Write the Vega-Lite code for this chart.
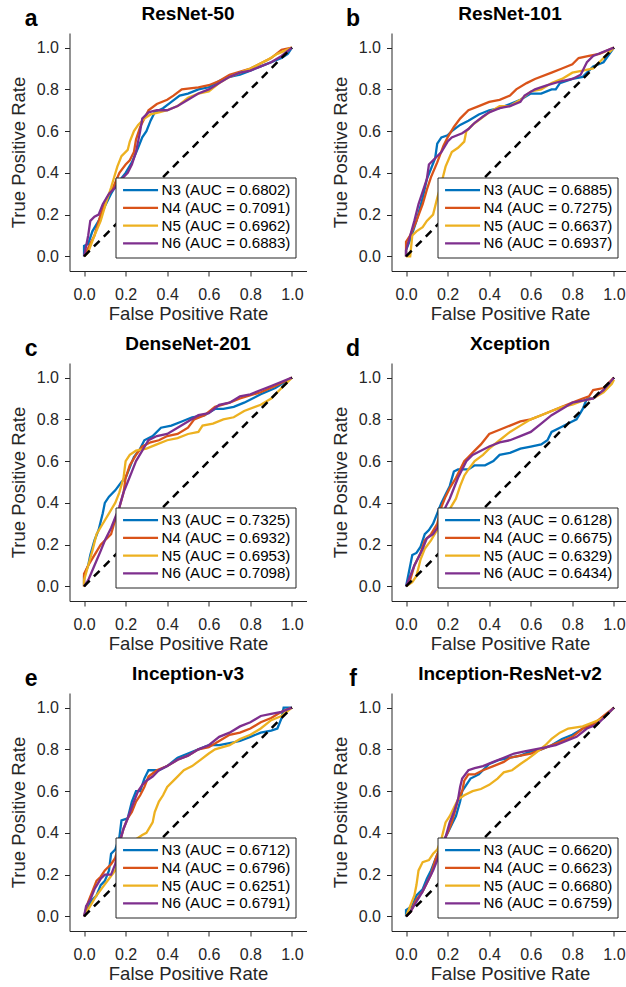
{
"$schema": "https://vega.github.io/schema/vega-lite/v6.json",
"padding": {"left": 8.5, "top": 4, "right": 0, "bottom": 0},
"autosize": {"type": "pad"},
"background": "white",
"datasets": {
"a": [
{"s":"N3 (AUC = 0.6802)","x":0,"y":0},{"s":"N3 (AUC = 0.6802)","x":0,"y":0.05},{"s":"N3 (AUC = 0.6802)","x":0.02,"y":0.06},{"s":"N3 (AUC = 0.6802)","x":0.04,"y":0.12},{"s":"N3 (AUC = 0.6802)","x":0.07,"y":0.17},{"s":"N3 (AUC = 0.6802)","x":0.1,"y":0.24},{"s":"N3 (AUC = 0.6802)","x":0.13,"y":0.3},{"s":"N3 (AUC = 0.6802)","x":0.16,"y":0.35},{"s":"N3 (AUC = 0.6802)","x":0.2,"y":0.4},{"s":"N3 (AUC = 0.6802)","x":0.23,"y":0.45},{"s":"N3 (AUC = 0.6802)","x":0.26,"y":0.52},{"s":"N3 (AUC = 0.6802)","x":0.28,"y":0.57},{"s":"N3 (AUC = 0.6802)","x":0.3,"y":0.6},{"s":"N3 (AUC = 0.6802)","x":0.32,"y":0.65},{"s":"N3 (AUC = 0.6802)","x":0.34,"y":0.69},{"s":"N3 (AUC = 0.6802)","x":0.38,"y":0.71},{"s":"N3 (AUC = 0.6802)","x":0.42,"y":0.74},{"s":"N3 (AUC = 0.6802)","x":0.46,"y":0.77},{"s":"N3 (AUC = 0.6802)","x":0.5,"y":0.78},{"s":"N3 (AUC = 0.6802)","x":0.55,"y":0.8},{"s":"N3 (AUC = 0.6802)","x":0.6,"y":0.81},{"s":"N3 (AUC = 0.6802)","x":0.65,"y":0.84},{"s":"N3 (AUC = 0.6802)","x":0.7,"y":0.86},{"s":"N3 (AUC = 0.6802)","x":0.75,"y":0.87},{"s":"N3 (AUC = 0.6802)","x":0.8,"y":0.89},{"s":"N3 (AUC = 0.6802)","x":0.85,"y":0.91},{"s":"N3 (AUC = 0.6802)","x":0.9,"y":0.93},{"s":"N3 (AUC = 0.6802)","x":0.95,"y":0.95},{"s":"N3 (AUC = 0.6802)","x":0.98,"y":0.97},{"s":"N3 (AUC = 0.6802)","x":1,"y":1},
{"s":"N4 (AUC = 0.7091)","x":0,"y":0},{"s":"N4 (AUC = 0.7091)","x":0.01,"y":0.02},{"s":"N4 (AUC = 0.7091)","x":0.03,"y":0.06},{"s":"N4 (AUC = 0.7091)","x":0.05,"y":0.1},{"s":"N4 (AUC = 0.7091)","x":0.08,"y":0.2},{"s":"N4 (AUC = 0.7091)","x":0.11,"y":0.28},{"s":"N4 (AUC = 0.7091)","x":0.14,"y":0.33},{"s":"N4 (AUC = 0.7091)","x":0.17,"y":0.4},{"s":"N4 (AUC = 0.7091)","x":0.2,"y":0.44},{"s":"N4 (AUC = 0.7091)","x":0.22,"y":0.46},{"s":"N4 (AUC = 0.7091)","x":0.24,"y":0.5},{"s":"N4 (AUC = 0.7091)","x":0.25,"y":0.56},{"s":"N4 (AUC = 0.7091)","x":0.27,"y":0.62},{"s":"N4 (AUC = 0.7091)","x":0.29,"y":0.66},{"s":"N4 (AUC = 0.7091)","x":0.31,"y":0.7},{"s":"N4 (AUC = 0.7091)","x":0.35,"y":0.73},{"s":"N4 (AUC = 0.7091)","x":0.4,"y":0.75},{"s":"N4 (AUC = 0.7091)","x":0.43,"y":0.77},{"s":"N4 (AUC = 0.7091)","x":0.47,"y":0.8},{"s":"N4 (AUC = 0.7091)","x":0.55,"y":0.81},{"s":"N4 (AUC = 0.7091)","x":0.6,"y":0.82},{"s":"N4 (AUC = 0.7091)","x":0.65,"y":0.84},{"s":"N4 (AUC = 0.7091)","x":0.7,"y":0.87},{"s":"N4 (AUC = 0.7091)","x":0.8,"y":0.9},{"s":"N4 (AUC = 0.7091)","x":0.9,"y":0.95},{"s":"N4 (AUC = 0.7091)","x":0.95,"y":0.99},{"s":"N4 (AUC = 0.7091)","x":1,"y":1},
{"s":"N5 (AUC = 0.6962)","x":0,"y":0},{"s":"N5 (AUC = 0.6962)","x":0.02,"y":0.02},{"s":"N5 (AUC = 0.6962)","x":0.05,"y":0.1},{"s":"N5 (AUC = 0.6962)","x":0.08,"y":0.17},{"s":"N5 (AUC = 0.6962)","x":0.11,"y":0.27},{"s":"N5 (AUC = 0.6962)","x":0.13,"y":0.33},{"s":"N5 (AUC = 0.6962)","x":0.16,"y":0.43},{"s":"N5 (AUC = 0.6962)","x":0.18,"y":0.48},{"s":"N5 (AUC = 0.6962)","x":0.21,"y":0.51},{"s":"N5 (AUC = 0.6962)","x":0.22,"y":0.55},{"s":"N5 (AUC = 0.6962)","x":0.24,"y":0.6},{"s":"N5 (AUC = 0.6962)","x":0.26,"y":0.63},{"s":"N5 (AUC = 0.6962)","x":0.29,"y":0.66},{"s":"N5 (AUC = 0.6962)","x":0.32,"y":0.68},{"s":"N5 (AUC = 0.6962)","x":0.36,"y":0.69},{"s":"N5 (AUC = 0.6962)","x":0.4,"y":0.7},{"s":"N5 (AUC = 0.6962)","x":0.45,"y":0.72},{"s":"N5 (AUC = 0.6962)","x":0.5,"y":0.76},{"s":"N5 (AUC = 0.6962)","x":0.55,"y":0.78},{"s":"N5 (AUC = 0.6962)","x":0.6,"y":0.79},{"s":"N5 (AUC = 0.6962)","x":0.65,"y":0.83},{"s":"N5 (AUC = 0.6962)","x":0.7,"y":0.86},{"s":"N5 (AUC = 0.6962)","x":0.8,"y":0.9},{"s":"N5 (AUC = 0.6962)","x":0.88,"y":0.94},{"s":"N5 (AUC = 0.6962)","x":0.93,"y":0.97},{"s":"N5 (AUC = 0.6962)","x":1,"y":1},
{"s":"N6 (AUC = 0.6883)","x":0,"y":0},{"s":"N6 (AUC = 0.6883)","x":0.01,"y":0.05},{"s":"N6 (AUC = 0.6883)","x":0.02,"y":0.1},{"s":"N6 (AUC = 0.6883)","x":0.03,"y":0.17},{"s":"N6 (AUC = 0.6883)","x":0.05,"y":0.19},{"s":"N6 (AUC = 0.6883)","x":0.07,"y":0.2},{"s":"N6 (AUC = 0.6883)","x":0.09,"y":0.25},{"s":"N6 (AUC = 0.6883)","x":0.12,"y":0.3},{"s":"N6 (AUC = 0.6883)","x":0.15,"y":0.33},{"s":"N6 (AUC = 0.6883)","x":0.18,"y":0.37},{"s":"N6 (AUC = 0.6883)","x":0.21,"y":0.4},{"s":"N6 (AUC = 0.6883)","x":0.23,"y":0.44},{"s":"N6 (AUC = 0.6883)","x":0.25,"y":0.5},{"s":"N6 (AUC = 0.6883)","x":0.27,"y":0.6},{"s":"N6 (AUC = 0.6883)","x":0.28,"y":0.66},{"s":"N6 (AUC = 0.6883)","x":0.31,"y":0.69},{"s":"N6 (AUC = 0.6883)","x":0.35,"y":0.7},{"s":"N6 (AUC = 0.6883)","x":0.4,"y":0.7},{"s":"N6 (AUC = 0.6883)","x":0.45,"y":0.72},{"s":"N6 (AUC = 0.6883)","x":0.5,"y":0.75},{"s":"N6 (AUC = 0.6883)","x":0.55,"y":0.78},{"s":"N6 (AUC = 0.6883)","x":0.6,"y":0.8},{"s":"N6 (AUC = 0.6883)","x":0.65,"y":0.83},{"s":"N6 (AUC = 0.6883)","x":0.7,"y":0.86},{"s":"N6 (AUC = 0.6883)","x":0.75,"y":0.88},{"s":"N6 (AUC = 0.6883)","x":0.8,"y":0.89},{"s":"N6 (AUC = 0.6883)","x":0.85,"y":0.91},{"s":"N6 (AUC = 0.6883)","x":0.9,"y":0.93},{"s":"N6 (AUC = 0.6883)","x":0.95,"y":0.96},{"s":"N6 (AUC = 0.6883)","x":1,"y":1}
],
"b": [
{"s":"N3 (AUC = 0.6885)","x":0,"y":0},{"s":"N3 (AUC = 0.6885)","x":0,"y":0.03},{"s":"N3 (AUC = 0.6885)","x":0.02,"y":0.08},{"s":"N3 (AUC = 0.6885)","x":0.05,"y":0.17},{"s":"N3 (AUC = 0.6885)","x":0.08,"y":0.28},{"s":"N3 (AUC = 0.6885)","x":0.1,"y":0.37},{"s":"N3 (AUC = 0.6885)","x":0.12,"y":0.42},{"s":"N3 (AUC = 0.6885)","x":0.14,"y":0.47},{"s":"N3 (AUC = 0.6885)","x":0.15,"y":0.54},{"s":"N3 (AUC = 0.6885)","x":0.17,"y":0.57},{"s":"N3 (AUC = 0.6885)","x":0.2,"y":0.58},{"s":"N3 (AUC = 0.6885)","x":0.22,"y":0.6},{"s":"N3 (AUC = 0.6885)","x":0.26,"y":0.63},{"s":"N3 (AUC = 0.6885)","x":0.3,"y":0.65},{"s":"N3 (AUC = 0.6885)","x":0.35,"y":0.68},{"s":"N3 (AUC = 0.6885)","x":0.4,"y":0.7},{"s":"N3 (AUC = 0.6885)","x":0.45,"y":0.71},{"s":"N3 (AUC = 0.6885)","x":0.5,"y":0.73},{"s":"N3 (AUC = 0.6885)","x":0.55,"y":0.75},{"s":"N3 (AUC = 0.6885)","x":0.6,"y":0.78},{"s":"N3 (AUC = 0.6885)","x":0.65,"y":0.78},{"s":"N3 (AUC = 0.6885)","x":0.7,"y":0.8},{"s":"N3 (AUC = 0.6885)","x":0.72,"y":0.8},{"s":"N3 (AUC = 0.6885)","x":0.74,"y":0.83},{"s":"N3 (AUC = 0.6885)","x":0.8,"y":0.85},{"s":"N3 (AUC = 0.6885)","x":0.85,"y":0.86},{"s":"N3 (AUC = 0.6885)","x":0.9,"y":0.91},{"s":"N3 (AUC = 0.6885)","x":0.95,"y":0.93},{"s":"N3 (AUC = 0.6885)","x":1,"y":1},
{"s":"N4 (AUC = 0.7275)","x":0,"y":0},{"s":"N4 (AUC = 0.7275)","x":0,"y":0.07},{"s":"N4 (AUC = 0.7275)","x":0.02,"y":0.1},{"s":"N4 (AUC = 0.7275)","x":0.05,"y":0.17},{"s":"N4 (AUC = 0.7275)","x":0.08,"y":0.25},{"s":"N4 (AUC = 0.7275)","x":0.1,"y":0.32},{"s":"N4 (AUC = 0.7275)","x":0.12,"y":0.38},{"s":"N4 (AUC = 0.7275)","x":0.15,"y":0.45},{"s":"N4 (AUC = 0.7275)","x":0.18,"y":0.53},{"s":"N4 (AUC = 0.7275)","x":0.2,"y":0.57},{"s":"N4 (AUC = 0.7275)","x":0.23,"y":0.62},{"s":"N4 (AUC = 0.7275)","x":0.26,"y":0.66},{"s":"N4 (AUC = 0.7275)","x":0.3,"y":0.7},{"s":"N4 (AUC = 0.7275)","x":0.35,"y":0.72},{"s":"N4 (AUC = 0.7275)","x":0.4,"y":0.74},{"s":"N4 (AUC = 0.7275)","x":0.45,"y":0.75},{"s":"N4 (AUC = 0.7275)","x":0.5,"y":0.77},{"s":"N4 (AUC = 0.7275)","x":0.53,"y":0.8},{"s":"N4 (AUC = 0.7275)","x":0.58,"y":0.83},{"s":"N4 (AUC = 0.7275)","x":0.62,"y":0.85},{"s":"N4 (AUC = 0.7275)","x":0.7,"y":0.88},{"s":"N4 (AUC = 0.7275)","x":0.75,"y":0.9},{"s":"N4 (AUC = 0.7275)","x":0.8,"y":0.92},{"s":"N4 (AUC = 0.7275)","x":0.83,"y":0.95},{"s":"N4 (AUC = 0.7275)","x":0.88,"y":0.96},{"s":"N4 (AUC = 0.7275)","x":0.93,"y":0.97},{"s":"N4 (AUC = 0.7275)","x":1,"y":1},
{"s":"N5 (AUC = 0.6637)","x":0,"y":0},{"s":"N5 (AUC = 0.6637)","x":0.02,"y":0},{"s":"N5 (AUC = 0.6637)","x":0.03,"y":0.1},{"s":"N5 (AUC = 0.6637)","x":0.05,"y":0.12},{"s":"N5 (AUC = 0.6637)","x":0.08,"y":0.14},{"s":"N5 (AUC = 0.6637)","x":0.1,"y":0.17},{"s":"N5 (AUC = 0.6637)","x":0.13,"y":0.2},{"s":"N5 (AUC = 0.6637)","x":0.15,"y":0.28},{"s":"N5 (AUC = 0.6637)","x":0.17,"y":0.35},{"s":"N5 (AUC = 0.6637)","x":0.19,"y":0.43},{"s":"N5 (AUC = 0.6637)","x":0.22,"y":0.5},{"s":"N5 (AUC = 0.6637)","x":0.25,"y":0.52},{"s":"N5 (AUC = 0.6637)","x":0.28,"y":0.55},{"s":"N5 (AUC = 0.6637)","x":0.29,"y":0.6},{"s":"N5 (AUC = 0.6637)","x":0.32,"y":0.63},{"s":"N5 (AUC = 0.6637)","x":0.36,"y":0.66},{"s":"N5 (AUC = 0.6637)","x":0.4,"y":0.69},{"s":"N5 (AUC = 0.6637)","x":0.45,"y":0.72},{"s":"N5 (AUC = 0.6637)","x":0.5,"y":0.72},{"s":"N5 (AUC = 0.6637)","x":0.55,"y":0.75},{"s":"N5 (AUC = 0.6637)","x":0.6,"y":0.79},{"s":"N5 (AUC = 0.6637)","x":0.65,"y":0.8},{"s":"N5 (AUC = 0.6637)","x":0.7,"y":0.83},{"s":"N5 (AUC = 0.6637)","x":0.75,"y":0.85},{"s":"N5 (AUC = 0.6637)","x":0.8,"y":0.88},{"s":"N5 (AUC = 0.6637)","x":0.85,"y":0.89},{"s":"N5 (AUC = 0.6637)","x":0.9,"y":0.9},{"s":"N5 (AUC = 0.6637)","x":0.95,"y":0.95},{"s":"N5 (AUC = 0.6637)","x":1,"y":1},
{"s":"N6 (AUC = 0.6937)","x":0,"y":0},{"s":"N6 (AUC = 0.6937)","x":0,"y":0.03},{"s":"N6 (AUC = 0.6937)","x":0.02,"y":0.1},{"s":"N6 (AUC = 0.6937)","x":0.04,"y":0.17},{"s":"N6 (AUC = 0.6937)","x":0.06,"y":0.25},{"s":"N6 (AUC = 0.6937)","x":0.08,"y":0.31},{"s":"N6 (AUC = 0.6937)","x":0.1,"y":0.37},{"s":"N6 (AUC = 0.6937)","x":0.11,"y":0.44},{"s":"N6 (AUC = 0.6937)","x":0.14,"y":0.47},{"s":"N6 (AUC = 0.6937)","x":0.17,"y":0.5},{"s":"N6 (AUC = 0.6937)","x":0.2,"y":0.55},{"s":"N6 (AUC = 0.6937)","x":0.22,"y":0.57},{"s":"N6 (AUC = 0.6937)","x":0.27,"y":0.59},{"s":"N6 (AUC = 0.6937)","x":0.3,"y":0.61},{"s":"N6 (AUC = 0.6937)","x":0.33,"y":0.64},{"s":"N6 (AUC = 0.6937)","x":0.37,"y":0.67},{"s":"N6 (AUC = 0.6937)","x":0.4,"y":0.69},{"s":"N6 (AUC = 0.6937)","x":0.45,"y":0.71},{"s":"N6 (AUC = 0.6937)","x":0.5,"y":0.72},{"s":"N6 (AUC = 0.6937)","x":0.55,"y":0.74},{"s":"N6 (AUC = 0.6937)","x":0.57,"y":0.77},{"s":"N6 (AUC = 0.6937)","x":0.62,"y":0.8},{"s":"N6 (AUC = 0.6937)","x":0.68,"y":0.82},{"s":"N6 (AUC = 0.6937)","x":0.75,"y":0.84},{"s":"N6 (AUC = 0.6937)","x":0.8,"y":0.85},{"s":"N6 (AUC = 0.6937)","x":0.84,"y":0.87},{"s":"N6 (AUC = 0.6937)","x":0.87,"y":0.93},{"s":"N6 (AUC = 0.6937)","x":0.9,"y":0.96},{"s":"N6 (AUC = 0.6937)","x":0.95,"y":0.98},{"s":"N6 (AUC = 0.6937)","x":1,"y":1}
],
"c": [
{"s":"N3 (AUC = 0.7325)","x":0,"y":0},{"s":"N3 (AUC = 0.7325)","x":0,"y":0.05},{"s":"N3 (AUC = 0.7325)","x":0.02,"y":0.1},{"s":"N3 (AUC = 0.7325)","x":0.03,"y":0.15},{"s":"N3 (AUC = 0.7325)","x":0.05,"y":0.22},{"s":"N3 (AUC = 0.7325)","x":0.07,"y":0.27},{"s":"N3 (AUC = 0.7325)","x":0.09,"y":0.35},{"s":"N3 (AUC = 0.7325)","x":0.1,"y":0.4},{"s":"N3 (AUC = 0.7325)","x":0.12,"y":0.43},{"s":"N3 (AUC = 0.7325)","x":0.15,"y":0.46},{"s":"N3 (AUC = 0.7325)","x":0.18,"y":0.5},{"s":"N3 (AUC = 0.7325)","x":0.2,"y":0.52},{"s":"N3 (AUC = 0.7325)","x":0.22,"y":0.57},{"s":"N3 (AUC = 0.7325)","x":0.24,"y":0.62},{"s":"N3 (AUC = 0.7325)","x":0.27,"y":0.66},{"s":"N3 (AUC = 0.7325)","x":0.29,"y":0.7},{"s":"N3 (AUC = 0.7325)","x":0.33,"y":0.72},{"s":"N3 (AUC = 0.7325)","x":0.37,"y":0.76},{"s":"N3 (AUC = 0.7325)","x":0.42,"y":0.77},{"s":"N3 (AUC = 0.7325)","x":0.47,"y":0.79},{"s":"N3 (AUC = 0.7325)","x":0.52,"y":0.81},{"s":"N3 (AUC = 0.7325)","x":0.58,"y":0.82},{"s":"N3 (AUC = 0.7325)","x":0.63,"y":0.85},{"s":"N3 (AUC = 0.7325)","x":0.67,"y":0.85},{"s":"N3 (AUC = 0.7325)","x":0.72,"y":0.86},{"s":"N3 (AUC = 0.7325)","x":0.77,"y":0.88},{"s":"N3 (AUC = 0.7325)","x":0.85,"y":0.92},{"s":"N3 (AUC = 0.7325)","x":0.92,"y":0.95},{"s":"N3 (AUC = 0.7325)","x":1,"y":1},
{"s":"N4 (AUC = 0.6932)","x":0,"y":0},{"s":"N4 (AUC = 0.6932)","x":0,"y":0.06},{"s":"N4 (AUC = 0.6932)","x":0.02,"y":0.1},{"s":"N4 (AUC = 0.6932)","x":0.05,"y":0.15},{"s":"N4 (AUC = 0.6932)","x":0.08,"y":0.2},{"s":"N4 (AUC = 0.6932)","x":0.1,"y":0.22},{"s":"N4 (AUC = 0.6932)","x":0.13,"y":0.25},{"s":"N4 (AUC = 0.6932)","x":0.15,"y":0.32},{"s":"N4 (AUC = 0.6932)","x":0.17,"y":0.38},{"s":"N4 (AUC = 0.6932)","x":0.19,"y":0.45},{"s":"N4 (AUC = 0.6932)","x":0.2,"y":0.52},{"s":"N4 (AUC = 0.6932)","x":0.22,"y":0.58},{"s":"N4 (AUC = 0.6932)","x":0.25,"y":0.63},{"s":"N4 (AUC = 0.6932)","x":0.28,"y":0.67},{"s":"N4 (AUC = 0.6932)","x":0.32,"y":0.69},{"s":"N4 (AUC = 0.6932)","x":0.36,"y":0.7},{"s":"N4 (AUC = 0.6932)","x":0.4,"y":0.72},{"s":"N4 (AUC = 0.6932)","x":0.45,"y":0.73},{"s":"N4 (AUC = 0.6932)","x":0.5,"y":0.76},{"s":"N4 (AUC = 0.6932)","x":0.53,"y":0.8},{"s":"N4 (AUC = 0.6932)","x":0.58,"y":0.82},{"s":"N4 (AUC = 0.6932)","x":0.63,"y":0.86},{"s":"N4 (AUC = 0.6932)","x":0.7,"y":0.88},{"s":"N4 (AUC = 0.6932)","x":0.75,"y":0.9},{"s":"N4 (AUC = 0.6932)","x":0.85,"y":0.93},{"s":"N4 (AUC = 0.6932)","x":0.92,"y":0.96},{"s":"N4 (AUC = 0.6932)","x":1,"y":1},
{"s":"N5 (AUC = 0.6953)","x":0,"y":0},{"s":"N5 (AUC = 0.6953)","x":0,"y":0.03},{"s":"N5 (AUC = 0.6953)","x":0.02,"y":0.1},{"s":"N5 (AUC = 0.6953)","x":0.04,"y":0.17},{"s":"N5 (AUC = 0.6953)","x":0.06,"y":0.25},{"s":"N5 (AUC = 0.6953)","x":0.09,"y":0.3},{"s":"N5 (AUC = 0.6953)","x":0.12,"y":0.35},{"s":"N5 (AUC = 0.6953)","x":0.15,"y":0.4},{"s":"N5 (AUC = 0.6953)","x":0.17,"y":0.45},{"s":"N5 (AUC = 0.6953)","x":0.19,"y":0.52},{"s":"N5 (AUC = 0.6953)","x":0.2,"y":0.6},{"s":"N5 (AUC = 0.6953)","x":0.22,"y":0.63},{"s":"N5 (AUC = 0.6953)","x":0.25,"y":0.65},{"s":"N5 (AUC = 0.6953)","x":0.3,"y":0.66},{"s":"N5 (AUC = 0.6953)","x":0.35,"y":0.68},{"s":"N5 (AUC = 0.6953)","x":0.4,"y":0.7},{"s":"N5 (AUC = 0.6953)","x":0.45,"y":0.71},{"s":"N5 (AUC = 0.6953)","x":0.5,"y":0.73},{"s":"N5 (AUC = 0.6953)","x":0.55,"y":0.74},{"s":"N5 (AUC = 0.6953)","x":0.57,"y":0.77},{"s":"N5 (AUC = 0.6953)","x":0.62,"y":0.78},{"s":"N5 (AUC = 0.6953)","x":0.67,"y":0.8},{"s":"N5 (AUC = 0.6953)","x":0.72,"y":0.81},{"s":"N5 (AUC = 0.6953)","x":0.77,"y":0.84},{"s":"N5 (AUC = 0.6953)","x":0.85,"y":0.87},{"s":"N5 (AUC = 0.6953)","x":0.9,"y":0.9},{"s":"N5 (AUC = 0.6953)","x":0.95,"y":0.95},{"s":"N5 (AUC = 0.6953)","x":1,"y":1},
{"s":"N6 (AUC = 0.7098)","x":0,"y":0},{"s":"N6 (AUC = 0.7098)","x":0.02,"y":0.03},{"s":"N6 (AUC = 0.7098)","x":0.05,"y":0.1},{"s":"N6 (AUC = 0.7098)","x":0.08,"y":0.17},{"s":"N6 (AUC = 0.7098)","x":0.1,"y":0.22},{"s":"N6 (AUC = 0.7098)","x":0.13,"y":0.28},{"s":"N6 (AUC = 0.7098)","x":0.15,"y":0.33},{"s":"N6 (AUC = 0.7098)","x":0.17,"y":0.38},{"s":"N6 (AUC = 0.7098)","x":0.19,"y":0.45},{"s":"N6 (AUC = 0.7098)","x":0.21,"y":0.5},{"s":"N6 (AUC = 0.7098)","x":0.23,"y":0.55},{"s":"N6 (AUC = 0.7098)","x":0.25,"y":0.6},{"s":"N6 (AUC = 0.7098)","x":0.28,"y":0.65},{"s":"N6 (AUC = 0.7098)","x":0.31,"y":0.7},{"s":"N6 (AUC = 0.7098)","x":0.35,"y":0.72},{"s":"N6 (AUC = 0.7098)","x":0.4,"y":0.73},{"s":"N6 (AUC = 0.7098)","x":0.45,"y":0.76},{"s":"N6 (AUC = 0.7098)","x":0.5,"y":0.79},{"s":"N6 (AUC = 0.7098)","x":0.55,"y":0.82},{"s":"N6 (AUC = 0.7098)","x":0.6,"y":0.83},{"s":"N6 (AUC = 0.7098)","x":0.65,"y":0.87},{"s":"N6 (AUC = 0.7098)","x":0.7,"y":0.88},{"s":"N6 (AUC = 0.7098)","x":0.75,"y":0.91},{"s":"N6 (AUC = 0.7098)","x":0.8,"y":0.92},{"s":"N6 (AUC = 0.7098)","x":0.9,"y":0.96},{"s":"N6 (AUC = 0.7098)","x":1,"y":1}
],
"d": [
{"s":"N3 (AUC = 0.6128)","x":0,"y":0},{"s":"N3 (AUC = 0.6128)","x":0.01,"y":0.05},{"s":"N3 (AUC = 0.6128)","x":0.02,"y":0.1},{"s":"N3 (AUC = 0.6128)","x":0.03,"y":0.15},{"s":"N3 (AUC = 0.6128)","x":0.05,"y":0.16},{"s":"N3 (AUC = 0.6128)","x":0.07,"y":0.19},{"s":"N3 (AUC = 0.6128)","x":0.09,"y":0.25},{"s":"N3 (AUC = 0.6128)","x":0.11,"y":0.27},{"s":"N3 (AUC = 0.6128)","x":0.13,"y":0.3},{"s":"N3 (AUC = 0.6128)","x":0.15,"y":0.35},{"s":"N3 (AUC = 0.6128)","x":0.17,"y":0.4},{"s":"N3 (AUC = 0.6128)","x":0.19,"y":0.44},{"s":"N3 (AUC = 0.6128)","x":0.21,"y":0.48},{"s":"N3 (AUC = 0.6128)","x":0.23,"y":0.55},{"s":"N3 (AUC = 0.6128)","x":0.25,"y":0.56},{"s":"N3 (AUC = 0.6128)","x":0.3,"y":0.56},{"s":"N3 (AUC = 0.6128)","x":0.33,"y":0.58},{"s":"N3 (AUC = 0.6128)","x":0.38,"y":0.58},{"s":"N3 (AUC = 0.6128)","x":0.42,"y":0.6},{"s":"N3 (AUC = 0.6128)","x":0.45,"y":0.63},{"s":"N3 (AUC = 0.6128)","x":0.5,"y":0.64},{"s":"N3 (AUC = 0.6128)","x":0.55,"y":0.66},{"s":"N3 (AUC = 0.6128)","x":0.6,"y":0.67},{"s":"N3 (AUC = 0.6128)","x":0.65,"y":0.68},{"s":"N3 (AUC = 0.6128)","x":0.68,"y":0.7},{"s":"N3 (AUC = 0.6128)","x":0.7,"y":0.74},{"s":"N3 (AUC = 0.6128)","x":0.74,"y":0.76},{"s":"N3 (AUC = 0.6128)","x":0.78,"y":0.78},{"s":"N3 (AUC = 0.6128)","x":0.82,"y":0.8},{"s":"N3 (AUC = 0.6128)","x":0.85,"y":0.85},{"s":"N3 (AUC = 0.6128)","x":0.87,"y":0.9},{"s":"N3 (AUC = 0.6128)","x":0.9,"y":0.9},{"s":"N3 (AUC = 0.6128)","x":0.95,"y":0.94},{"s":"N3 (AUC = 0.6128)","x":1,"y":1},
{"s":"N4 (AUC = 0.6675)","x":0,"y":0},{"s":"N4 (AUC = 0.6675)","x":0.02,"y":0.03},{"s":"N4 (AUC = 0.6675)","x":0.04,"y":0.1},{"s":"N4 (AUC = 0.6675)","x":0.07,"y":0.16},{"s":"N4 (AUC = 0.6675)","x":0.09,"y":0.22},{"s":"N4 (AUC = 0.6675)","x":0.12,"y":0.25},{"s":"N4 (AUC = 0.6675)","x":0.15,"y":0.3},{"s":"N4 (AUC = 0.6675)","x":0.17,"y":0.38},{"s":"N4 (AUC = 0.6675)","x":0.19,"y":0.43},{"s":"N4 (AUC = 0.6675)","x":0.21,"y":0.47},{"s":"N4 (AUC = 0.6675)","x":0.24,"y":0.52},{"s":"N4 (AUC = 0.6675)","x":0.26,"y":0.56},{"s":"N4 (AUC = 0.6675)","x":0.28,"y":0.6},{"s":"N4 (AUC = 0.6675)","x":0.3,"y":0.62},{"s":"N4 (AUC = 0.6675)","x":0.33,"y":0.65},{"s":"N4 (AUC = 0.6675)","x":0.36,"y":0.68},{"s":"N4 (AUC = 0.6675)","x":0.4,"y":0.73},{"s":"N4 (AUC = 0.6675)","x":0.45,"y":0.75},{"s":"N4 (AUC = 0.6675)","x":0.5,"y":0.77},{"s":"N4 (AUC = 0.6675)","x":0.55,"y":0.79},{"s":"N4 (AUC = 0.6675)","x":0.6,"y":0.8},{"s":"N4 (AUC = 0.6675)","x":0.65,"y":0.82},{"s":"N4 (AUC = 0.6675)","x":0.7,"y":0.84},{"s":"N4 (AUC = 0.6675)","x":0.75,"y":0.86},{"s":"N4 (AUC = 0.6675)","x":0.8,"y":0.88},{"s":"N4 (AUC = 0.6675)","x":0.85,"y":0.9},{"s":"N4 (AUC = 0.6675)","x":0.88,"y":0.91},{"s":"N4 (AUC = 0.6675)","x":0.9,"y":0.94},{"s":"N4 (AUC = 0.6675)","x":0.95,"y":0.95},{"s":"N4 (AUC = 0.6675)","x":1,"y":1},
{"s":"N5 (AUC = 0.6329)","x":0,"y":0},{"s":"N5 (AUC = 0.6329)","x":0.03,"y":0.02},{"s":"N5 (AUC = 0.6329)","x":0.05,"y":0.05},{"s":"N5 (AUC = 0.6329)","x":0.07,"y":0.13},{"s":"N5 (AUC = 0.6329)","x":0.09,"y":0.18},{"s":"N5 (AUC = 0.6329)","x":0.12,"y":0.22},{"s":"N5 (AUC = 0.6329)","x":0.15,"y":0.27},{"s":"N5 (AUC = 0.6329)","x":0.18,"y":0.32},{"s":"N5 (AUC = 0.6329)","x":0.21,"y":0.37},{"s":"N5 (AUC = 0.6329)","x":0.24,"y":0.42},{"s":"N5 (AUC = 0.6329)","x":0.26,"y":0.48},{"s":"N5 (AUC = 0.6329)","x":0.28,"y":0.53},{"s":"N5 (AUC = 0.6329)","x":0.3,"y":0.56},{"s":"N5 (AUC = 0.6329)","x":0.33,"y":0.6},{"s":"N5 (AUC = 0.6329)","x":0.37,"y":0.63},{"s":"N5 (AUC = 0.6329)","x":0.4,"y":0.66},{"s":"N5 (AUC = 0.6329)","x":0.45,"y":0.7},{"s":"N5 (AUC = 0.6329)","x":0.5,"y":0.74},{"s":"N5 (AUC = 0.6329)","x":0.55,"y":0.77},{"s":"N5 (AUC = 0.6329)","x":0.6,"y":0.8},{"s":"N5 (AUC = 0.6329)","x":0.65,"y":0.82},{"s":"N5 (AUC = 0.6329)","x":0.7,"y":0.84},{"s":"N5 (AUC = 0.6329)","x":0.75,"y":0.86},{"s":"N5 (AUC = 0.6329)","x":0.8,"y":0.87},{"s":"N5 (AUC = 0.6329)","x":0.85,"y":0.89},{"s":"N5 (AUC = 0.6329)","x":0.9,"y":0.9},{"s":"N5 (AUC = 0.6329)","x":0.95,"y":0.93},{"s":"N5 (AUC = 0.6329)","x":0.99,"y":0.97},{"s":"N5 (AUC = 0.6329)","x":1,"y":0.99},
{"s":"N6 (AUC = 0.6434)","x":0,"y":0},{"s":"N6 (AUC = 0.6434)","x":0.02,"y":0.05},{"s":"N6 (AUC = 0.6434)","x":0.04,"y":0.1},{"s":"N6 (AUC = 0.6434)","x":0.06,"y":0.14},{"s":"N6 (AUC = 0.6434)","x":0.08,"y":0.18},{"s":"N6 (AUC = 0.6434)","x":0.1,"y":0.23},{"s":"N6 (AUC = 0.6434)","x":0.13,"y":0.25},{"s":"N6 (AUC = 0.6434)","x":0.15,"y":0.28},{"s":"N6 (AUC = 0.6434)","x":0.17,"y":0.33},{"s":"N6 (AUC = 0.6434)","x":0.19,"y":0.38},{"s":"N6 (AUC = 0.6434)","x":0.21,"y":0.42},{"s":"N6 (AUC = 0.6434)","x":0.23,"y":0.47},{"s":"N6 (AUC = 0.6434)","x":0.25,"y":0.52},{"s":"N6 (AUC = 0.6434)","x":0.27,"y":0.56},{"s":"N6 (AUC = 0.6434)","x":0.29,"y":0.6},{"s":"N6 (AUC = 0.6434)","x":0.32,"y":0.63},{"s":"N6 (AUC = 0.6434)","x":0.36,"y":0.65},{"s":"N6 (AUC = 0.6434)","x":0.4,"y":0.67},{"s":"N6 (AUC = 0.6434)","x":0.45,"y":0.69},{"s":"N6 (AUC = 0.6434)","x":0.5,"y":0.7},{"s":"N6 (AUC = 0.6434)","x":0.55,"y":0.72},{"s":"N6 (AUC = 0.6434)","x":0.6,"y":0.74},{"s":"N6 (AUC = 0.6434)","x":0.65,"y":0.78},{"s":"N6 (AUC = 0.6434)","x":0.7,"y":0.82},{"s":"N6 (AUC = 0.6434)","x":0.75,"y":0.85},{"s":"N6 (AUC = 0.6434)","x":0.8,"y":0.88},{"s":"N6 (AUC = 0.6434)","x":0.85,"y":0.89},{"s":"N6 (AUC = 0.6434)","x":0.9,"y":0.9},{"s":"N6 (AUC = 0.6434)","x":0.95,"y":0.94},{"s":"N6 (AUC = 0.6434)","x":1,"y":1}
],
"e": [
{"s":"N3 (AUC = 0.6712)","x":0,"y":0},{"s":"N3 (AUC = 0.6712)","x":0.02,"y":0.05},{"s":"N3 (AUC = 0.6712)","x":0.04,"y":0.08},{"s":"N3 (AUC = 0.6712)","x":0.06,"y":0.1},{"s":"N3 (AUC = 0.6712)","x":0.08,"y":0.15},{"s":"N3 (AUC = 0.6712)","x":0.1,"y":0.17},{"s":"N3 (AUC = 0.6712)","x":0.12,"y":0.22},{"s":"N3 (AUC = 0.6712)","x":0.13,"y":0.3},{"s":"N3 (AUC = 0.6712)","x":0.15,"y":0.32},{"s":"N3 (AUC = 0.6712)","x":0.17,"y":0.38},{"s":"N3 (AUC = 0.6712)","x":0.18,"y":0.46},{"s":"N3 (AUC = 0.6712)","x":0.21,"y":0.47},{"s":"N3 (AUC = 0.6712)","x":0.23,"y":0.55},{"s":"N3 (AUC = 0.6712)","x":0.25,"y":0.6},{"s":"N3 (AUC = 0.6712)","x":0.27,"y":0.6},{"s":"N3 (AUC = 0.6712)","x":0.29,"y":0.66},{"s":"N3 (AUC = 0.6712)","x":0.31,"y":0.7},{"s":"N3 (AUC = 0.6712)","x":0.36,"y":0.7},{"s":"N3 (AUC = 0.6712)","x":0.4,"y":0.72},{"s":"N3 (AUC = 0.6712)","x":0.45,"y":0.76},{"s":"N3 (AUC = 0.6712)","x":0.5,"y":0.78},{"s":"N3 (AUC = 0.6712)","x":0.55,"y":0.8},{"s":"N3 (AUC = 0.6712)","x":0.6,"y":0.82},{"s":"N3 (AUC = 0.6712)","x":0.65,"y":0.82},{"s":"N3 (AUC = 0.6712)","x":0.7,"y":0.83},{"s":"N3 (AUC = 0.6712)","x":0.75,"y":0.84},{"s":"N3 (AUC = 0.6712)","x":0.8,"y":0.86},{"s":"N3 (AUC = 0.6712)","x":0.85,"y":0.88},{"s":"N3 (AUC = 0.6712)","x":0.9,"y":0.89},{"s":"N3 (AUC = 0.6712)","x":0.93,"y":0.9},{"s":"N3 (AUC = 0.6712)","x":0.95,"y":0.95},{"s":"N3 (AUC = 0.6712)","x":0.96,"y":1},{"s":"N3 (AUC = 0.6712)","x":1,"y":1},
{"s":"N4 (AUC = 0.6796)","x":0,"y":0},{"s":"N4 (AUC = 0.6796)","x":0.02,"y":0.07},{"s":"N4 (AUC = 0.6796)","x":0.04,"y":0.12},{"s":"N4 (AUC = 0.6796)","x":0.06,"y":0.17},{"s":"N4 (AUC = 0.6796)","x":0.08,"y":0.19},{"s":"N4 (AUC = 0.6796)","x":0.1,"y":0.22},{"s":"N4 (AUC = 0.6796)","x":0.13,"y":0.25},{"s":"N4 (AUC = 0.6796)","x":0.15,"y":0.28},{"s":"N4 (AUC = 0.6796)","x":0.17,"y":0.35},{"s":"N4 (AUC = 0.6796)","x":0.19,"y":0.42},{"s":"N4 (AUC = 0.6796)","x":0.21,"y":0.47},{"s":"N4 (AUC = 0.6796)","x":0.23,"y":0.5},{"s":"N4 (AUC = 0.6796)","x":0.25,"y":0.55},{"s":"N4 (AUC = 0.6796)","x":0.27,"y":0.58},{"s":"N4 (AUC = 0.6796)","x":0.29,"y":0.62},{"s":"N4 (AUC = 0.6796)","x":0.31,"y":0.67},{"s":"N4 (AUC = 0.6796)","x":0.35,"y":0.7},{"s":"N4 (AUC = 0.6796)","x":0.4,"y":0.72},{"s":"N4 (AUC = 0.6796)","x":0.45,"y":0.75},{"s":"N4 (AUC = 0.6796)","x":0.5,"y":0.77},{"s":"N4 (AUC = 0.6796)","x":0.55,"y":0.8},{"s":"N4 (AUC = 0.6796)","x":0.6,"y":0.81},{"s":"N4 (AUC = 0.6796)","x":0.65,"y":0.84},{"s":"N4 (AUC = 0.6796)","x":0.7,"y":0.87},{"s":"N4 (AUC = 0.6796)","x":0.75,"y":0.88},{"s":"N4 (AUC = 0.6796)","x":0.8,"y":0.9},{"s":"N4 (AUC = 0.6796)","x":0.85,"y":0.93},{"s":"N4 (AUC = 0.6796)","x":0.9,"y":0.95},{"s":"N4 (AUC = 0.6796)","x":0.95,"y":0.98},{"s":"N4 (AUC = 0.6796)","x":1,"y":1},
{"s":"N5 (AUC = 0.6251)","x":0,"y":0},{"s":"N5 (AUC = 0.6251)","x":0.03,"y":0.05},{"s":"N5 (AUC = 0.6251)","x":0.06,"y":0.1},{"s":"N5 (AUC = 0.6251)","x":0.09,"y":0.14},{"s":"N5 (AUC = 0.6251)","x":0.12,"y":0.18},{"s":"N5 (AUC = 0.6251)","x":0.15,"y":0.22},{"s":"N5 (AUC = 0.6251)","x":0.18,"y":0.3},{"s":"N5 (AUC = 0.6251)","x":0.21,"y":0.35},{"s":"N5 (AUC = 0.6251)","x":0.25,"y":0.37},{"s":"N5 (AUC = 0.6251)","x":0.28,"y":0.39},{"s":"N5 (AUC = 0.6251)","x":0.3,"y":0.4},{"s":"N5 (AUC = 0.6251)","x":0.33,"y":0.45},{"s":"N5 (AUC = 0.6251)","x":0.34,"y":0.5},{"s":"N5 (AUC = 0.6251)","x":0.36,"y":0.55},{"s":"N5 (AUC = 0.6251)","x":0.38,"y":0.58},{"s":"N5 (AUC = 0.6251)","x":0.4,"y":0.62},{"s":"N5 (AUC = 0.6251)","x":0.44,"y":0.66},{"s":"N5 (AUC = 0.6251)","x":0.48,"y":0.7},{"s":"N5 (AUC = 0.6251)","x":0.52,"y":0.72},{"s":"N5 (AUC = 0.6251)","x":0.56,"y":0.75},{"s":"N5 (AUC = 0.6251)","x":0.6,"y":0.78},{"s":"N5 (AUC = 0.6251)","x":0.63,"y":0.8},{"s":"N5 (AUC = 0.6251)","x":0.7,"y":0.82},{"s":"N5 (AUC = 0.6251)","x":0.75,"y":0.85},{"s":"N5 (AUC = 0.6251)","x":0.8,"y":0.87},{"s":"N5 (AUC = 0.6251)","x":0.85,"y":0.9},{"s":"N5 (AUC = 0.6251)","x":0.9,"y":0.94},{"s":"N5 (AUC = 0.6251)","x":0.95,"y":0.96},{"s":"N5 (AUC = 0.6251)","x":1,"y":1},
{"s":"N6 (AUC = 0.6791)","x":0,"y":0},{"s":"N6 (AUC = 0.6791)","x":0.01,"y":0.05},{"s":"N6 (AUC = 0.6791)","x":0.03,"y":0.08},{"s":"N6 (AUC = 0.6791)","x":0.05,"y":0.13},{"s":"N6 (AUC = 0.6791)","x":0.08,"y":0.18},{"s":"N6 (AUC = 0.6791)","x":0.1,"y":0.2},{"s":"N6 (AUC = 0.6791)","x":0.13,"y":0.2},{"s":"N6 (AUC = 0.6791)","x":0.15,"y":0.25},{"s":"N6 (AUC = 0.6791)","x":0.17,"y":0.35},{"s":"N6 (AUC = 0.6791)","x":0.19,"y":0.42},{"s":"N6 (AUC = 0.6791)","x":0.21,"y":0.47},{"s":"N6 (AUC = 0.6791)","x":0.24,"y":0.55},{"s":"N6 (AUC = 0.6791)","x":0.26,"y":0.6},{"s":"N6 (AUC = 0.6791)","x":0.28,"y":0.63},{"s":"N6 (AUC = 0.6791)","x":0.3,"y":0.65},{"s":"N6 (AUC = 0.6791)","x":0.33,"y":0.67},{"s":"N6 (AUC = 0.6791)","x":0.36,"y":0.7},{"s":"N6 (AUC = 0.6791)","x":0.4,"y":0.72},{"s":"N6 (AUC = 0.6791)","x":0.45,"y":0.75},{"s":"N6 (AUC = 0.6791)","x":0.5,"y":0.77},{"s":"N6 (AUC = 0.6791)","x":0.55,"y":0.8},{"s":"N6 (AUC = 0.6791)","x":0.6,"y":0.82},{"s":"N6 (AUC = 0.6791)","x":0.65,"y":0.86},{"s":"N6 (AUC = 0.6791)","x":0.7,"y":0.88},{"s":"N6 (AUC = 0.6791)","x":0.75,"y":0.91},{"s":"N6 (AUC = 0.6791)","x":0.8,"y":0.93},{"s":"N6 (AUC = 0.6791)","x":0.85,"y":0.96},{"s":"N6 (AUC = 0.6791)","x":0.9,"y":0.97},{"s":"N6 (AUC = 0.6791)","x":0.95,"y":0.98},{"s":"N6 (AUC = 0.6791)","x":1,"y":1}
],
"f": [
{"s":"N3 (AUC = 0.6620)","x":0,"y":0},{"s":"N3 (AUC = 0.6620)","x":0,"y":0.03},{"s":"N3 (AUC = 0.6620)","x":0.03,"y":0.05},{"s":"N3 (AUC = 0.6620)","x":0.05,"y":0.1},{"s":"N3 (AUC = 0.6620)","x":0.08,"y":0.13},{"s":"N3 (AUC = 0.6620)","x":0.1,"y":0.18},{"s":"N3 (AUC = 0.6620)","x":0.12,"y":0.22},{"s":"N3 (AUC = 0.6620)","x":0.14,"y":0.27},{"s":"N3 (AUC = 0.6620)","x":0.16,"y":0.32},{"s":"N3 (AUC = 0.6620)","x":0.18,"y":0.36},{"s":"N3 (AUC = 0.6620)","x":0.2,"y":0.4},{"s":"N3 (AUC = 0.6620)","x":0.22,"y":0.44},{"s":"N3 (AUC = 0.6620)","x":0.24,"y":0.48},{"s":"N3 (AUC = 0.6620)","x":0.26,"y":0.55},{"s":"N3 (AUC = 0.6620)","x":0.27,"y":0.6},{"s":"N3 (AUC = 0.6620)","x":0.29,"y":0.63},{"s":"N3 (AUC = 0.6620)","x":0.31,"y":0.66},{"s":"N3 (AUC = 0.6620)","x":0.35,"y":0.68},{"s":"N3 (AUC = 0.6620)","x":0.4,"y":0.73},{"s":"N3 (AUC = 0.6620)","x":0.45,"y":0.75},{"s":"N3 (AUC = 0.6620)","x":0.5,"y":0.76},{"s":"N3 (AUC = 0.6620)","x":0.55,"y":0.77},{"s":"N3 (AUC = 0.6620)","x":0.6,"y":0.79},{"s":"N3 (AUC = 0.6620)","x":0.65,"y":0.8},{"s":"N3 (AUC = 0.6620)","x":0.7,"y":0.82},{"s":"N3 (AUC = 0.6620)","x":0.75,"y":0.85},{"s":"N3 (AUC = 0.6620)","x":0.8,"y":0.87},{"s":"N3 (AUC = 0.6620)","x":0.85,"y":0.9},{"s":"N3 (AUC = 0.6620)","x":0.9,"y":0.92},{"s":"N3 (AUC = 0.6620)","x":0.95,"y":0.95},{"s":"N3 (AUC = 0.6620)","x":1,"y":1},
{"s":"N4 (AUC = 0.6623)","x":0,"y":0},{"s":"N4 (AUC = 0.6623)","x":0.02,"y":0.02},{"s":"N4 (AUC = 0.6623)","x":0.05,"y":0.08},{"s":"N4 (AUC = 0.6623)","x":0.08,"y":0.12},{"s":"N4 (AUC = 0.6623)","x":0.1,"y":0.16},{"s":"N4 (AUC = 0.6623)","x":0.12,"y":0.2},{"s":"N4 (AUC = 0.6623)","x":0.14,"y":0.27},{"s":"N4 (AUC = 0.6623)","x":0.16,"y":0.32},{"s":"N4 (AUC = 0.6623)","x":0.18,"y":0.36},{"s":"N4 (AUC = 0.6623)","x":0.2,"y":0.4},{"s":"N4 (AUC = 0.6623)","x":0.22,"y":0.45},{"s":"N4 (AUC = 0.6623)","x":0.24,"y":0.52},{"s":"N4 (AUC = 0.6623)","x":0.25,"y":0.56},{"s":"N4 (AUC = 0.6623)","x":0.27,"y":0.6},{"s":"N4 (AUC = 0.6623)","x":0.28,"y":0.65},{"s":"N4 (AUC = 0.6623)","x":0.3,"y":0.68},{"s":"N4 (AUC = 0.6623)","x":0.33,"y":0.68},{"s":"N4 (AUC = 0.6623)","x":0.37,"y":0.7},{"s":"N4 (AUC = 0.6623)","x":0.42,"y":0.72},{"s":"N4 (AUC = 0.6623)","x":0.47,"y":0.74},{"s":"N4 (AUC = 0.6623)","x":0.5,"y":0.76},{"s":"N4 (AUC = 0.6623)","x":0.55,"y":0.77},{"s":"N4 (AUC = 0.6623)","x":0.6,"y":0.78},{"s":"N4 (AUC = 0.6623)","x":0.65,"y":0.8},{"s":"N4 (AUC = 0.6623)","x":0.7,"y":0.82},{"s":"N4 (AUC = 0.6623)","x":0.75,"y":0.84},{"s":"N4 (AUC = 0.6623)","x":0.8,"y":0.86},{"s":"N4 (AUC = 0.6623)","x":0.85,"y":0.9},{"s":"N4 (AUC = 0.6623)","x":0.9,"y":0.92},{"s":"N4 (AUC = 0.6623)","x":0.95,"y":0.96},{"s":"N4 (AUC = 0.6623)","x":1,"y":1},
{"s":"N5 (AUC = 0.6680)","x":0,"y":0},{"s":"N5 (AUC = 0.6680)","x":0.02,"y":0.05},{"s":"N5 (AUC = 0.6680)","x":0.04,"y":0.1},{"s":"N5 (AUC = 0.6680)","x":0.05,"y":0.15},{"s":"N5 (AUC = 0.6680)","x":0.06,"y":0.22},{"s":"N5 (AUC = 0.6680)","x":0.08,"y":0.26},{"s":"N5 (AUC = 0.6680)","x":0.11,"y":0.27},{"s":"N5 (AUC = 0.6680)","x":0.13,"y":0.3},{"s":"N5 (AUC = 0.6680)","x":0.15,"y":0.32},{"s":"N5 (AUC = 0.6680)","x":0.17,"y":0.37},{"s":"N5 (AUC = 0.6680)","x":0.19,"y":0.45},{"s":"N5 (AUC = 0.6680)","x":0.21,"y":0.48},{"s":"N5 (AUC = 0.6680)","x":0.23,"y":0.52},{"s":"N5 (AUC = 0.6680)","x":0.25,"y":0.56},{"s":"N5 (AUC = 0.6680)","x":0.28,"y":0.58},{"s":"N5 (AUC = 0.6680)","x":0.32,"y":0.6},{"s":"N5 (AUC = 0.6680)","x":0.36,"y":0.61},{"s":"N5 (AUC = 0.6680)","x":0.4,"y":0.63},{"s":"N5 (AUC = 0.6680)","x":0.44,"y":0.66},{"s":"N5 (AUC = 0.6680)","x":0.47,"y":0.69},{"s":"N5 (AUC = 0.6680)","x":0.51,"y":0.7},{"s":"N5 (AUC = 0.6680)","x":0.55,"y":0.73},{"s":"N5 (AUC = 0.6680)","x":0.58,"y":0.75},{"s":"N5 (AUC = 0.6680)","x":0.62,"y":0.78},{"s":"N5 (AUC = 0.6680)","x":0.67,"y":0.82},{"s":"N5 (AUC = 0.6680)","x":0.7,"y":0.85},{"s":"N5 (AUC = 0.6680)","x":0.74,"y":0.88},{"s":"N5 (AUC = 0.6680)","x":0.78,"y":0.9},{"s":"N5 (AUC = 0.6680)","x":0.85,"y":0.91},{"s":"N5 (AUC = 0.6680)","x":0.9,"y":0.93},{"s":"N5 (AUC = 0.6680)","x":0.95,"y":0.95},{"s":"N5 (AUC = 0.6680)","x":1,"y":1},
{"s":"N6 (AUC = 0.6759)","x":0,"y":0},{"s":"N6 (AUC = 0.6759)","x":0.02,"y":0.02},{"s":"N6 (AUC = 0.6759)","x":0.05,"y":0.07},{"s":"N6 (AUC = 0.6759)","x":0.08,"y":0.12},{"s":"N6 (AUC = 0.6759)","x":0.1,"y":0.16},{"s":"N6 (AUC = 0.6759)","x":0.13,"y":0.22},{"s":"N6 (AUC = 0.6759)","x":0.15,"y":0.27},{"s":"N6 (AUC = 0.6759)","x":0.17,"y":0.33},{"s":"N6 (AUC = 0.6759)","x":0.19,"y":0.38},{"s":"N6 (AUC = 0.6759)","x":0.21,"y":0.45},{"s":"N6 (AUC = 0.6759)","x":0.23,"y":0.5},{"s":"N6 (AUC = 0.6759)","x":0.25,"y":0.56},{"s":"N6 (AUC = 0.6759)","x":0.26,"y":0.62},{"s":"N6 (AUC = 0.6759)","x":0.27,"y":0.66},{"s":"N6 (AUC = 0.6759)","x":0.3,"y":0.7},{"s":"N6 (AUC = 0.6759)","x":0.33,"y":0.71},{"s":"N6 (AUC = 0.6759)","x":0.37,"y":0.72},{"s":"N6 (AUC = 0.6759)","x":0.42,"y":0.74},{"s":"N6 (AUC = 0.6759)","x":0.47,"y":0.76},{"s":"N6 (AUC = 0.6759)","x":0.52,"y":0.78},{"s":"N6 (AUC = 0.6759)","x":0.57,"y":0.79},{"s":"N6 (AUC = 0.6759)","x":0.62,"y":0.8},{"s":"N6 (AUC = 0.6759)","x":0.67,"y":0.81},{"s":"N6 (AUC = 0.6759)","x":0.72,"y":0.82},{"s":"N6 (AUC = 0.6759)","x":0.77,"y":0.84},{"s":"N6 (AUC = 0.6759)","x":0.82,"y":0.86},{"s":"N6 (AUC = 0.6759)","x":0.87,"y":0.9},{"s":"N6 (AUC = 0.6759)","x":0.92,"y":0.92},{"s":"N6 (AUC = 0.6759)","x":0.96,"y":0.96},{"s":"N6 (AUC = 0.6759)","x":1,"y":1}
]
},
"columns": 2,
"spacing": {"row": 92, "column": 85},
"bounds": "flush",
"resolve": {"scale": {"color": "independent"}, "legend": {"color": "independent"}},
"concat": [
{"width": 237, "height": 238, "title": "ResNet-50", "layer": [
 {"data": {"name": "a"}, "mark": "line", "encoding": {
  "x": {"field": "x", "type": "quantitative", "scale": {"domain": [-0.07, 1.07], "nice": false, "zero": false}, "axis": {"title": "False Positive Rate"}},
  "y": {"field": "y", "type": "quantitative", "scale": {"domain": [-0.07, 1.07], "nice": false, "zero": false}, "axis": {"title": "True Positive Rate"}},
  "color": {"field": "s", "type": "nominal", "scale": {"domain": ["N3 (AUC = 0.6802)","N4 (AUC = 0.7091)","N5 (AUC = 0.6962)","N6 (AUC = 0.6883)"], "range": ["#0072BD","#D95319","#EDB120","#7E2F8E"]}, "legend": {"title": null}},
  "order": {"value": null}}},
 {"data": {"values": [{"x": 0, "y": 0}, {"x": 1, "y": 1}]}, "mark": {"type": "line", "color": "#000000", "strokeDash": [8, 6], "strokeWidth": 2.5}, "encoding": {"x": {"field": "x", "type": "quantitative", "axis": {"title": "False Positive Rate"}}, "y": {"field": "y", "type": "quantitative", "axis": {"title": "True Positive Rate"}}}},
 {"data": {"values": [{"letter": "a"}]}, "mark": {"type": "text", "fontSize": 23, "fontWeight": "bold", "color": "#000000"}, "encoding": {"x": {"datum": -0.255, "type": "quantitative"}, "y": {"datum": 1.105, "type": "quantitative"}, "text": {"field": "letter"}}}
]},
{"width": 237, "height": 238, "title": "ResNet-101", "layer": [
 {"data": {"name": "b"}, "mark": "line", "encoding": {
  "x": {"field": "x", "type": "quantitative", "scale": {"domain": [-0.07, 1.07], "nice": false, "zero": false}, "axis": {"title": "False Positive Rate"}},
  "y": {"field": "y", "type": "quantitative", "scale": {"domain": [-0.07, 1.07], "nice": false, "zero": false}, "axis": {"title": "True Positive Rate"}},
  "color": {"field": "s", "type": "nominal", "scale": {"domain": ["N3 (AUC = 0.6885)","N4 (AUC = 0.7275)","N5 (AUC = 0.6637)","N6 (AUC = 0.6937)"], "range": ["#0072BD","#D95319","#EDB120","#7E2F8E"]}, "legend": {"title": null}},
  "order": {"value": null}}},
 {"data": {"values": [{"x": 0, "y": 0}, {"x": 1, "y": 1}]}, "mark": {"type": "line", "color": "#000000", "strokeDash": [8, 6], "strokeWidth": 2.5}, "encoding": {"x": {"field": "x", "type": "quantitative", "axis": {"title": "False Positive Rate"}}, "y": {"field": "y", "type": "quantitative", "axis": {"title": "True Positive Rate"}}}},
 {"data": {"values": [{"letter": "b"}]}, "mark": {"type": "text", "fontSize": 23, "fontWeight": "bold", "color": "#000000"}, "encoding": {"x": {"datum": -0.255, "type": "quantitative"}, "y": {"datum": 1.105, "type": "quantitative"}, "text": {"field": "letter"}}}
]},
{"width": 237, "height": 238, "title": "DenseNet-201", "layer": [
 {"data": {"name": "c"}, "mark": "line", "encoding": {
  "x": {"field": "x", "type": "quantitative", "scale": {"domain": [-0.07, 1.07], "nice": false, "zero": false}, "axis": {"title": "False Positive Rate"}},
  "y": {"field": "y", "type": "quantitative", "scale": {"domain": [-0.07, 1.07], "nice": false, "zero": false}, "axis": {"title": "True Positive Rate"}},
  "color": {"field": "s", "type": "nominal", "scale": {"domain": ["N3 (AUC = 0.7325)","N4 (AUC = 0.6932)","N5 (AUC = 0.6953)","N6 (AUC = 0.7098)"], "range": ["#0072BD","#D95319","#EDB120","#7E2F8E"]}, "legend": {"title": null}},
  "order": {"value": null}}},
 {"data": {"values": [{"x": 0, "y": 0}, {"x": 1, "y": 1}]}, "mark": {"type": "line", "color": "#000000", "strokeDash": [8, 6], "strokeWidth": 2.5}, "encoding": {"x": {"field": "x", "type": "quantitative", "axis": {"title": "False Positive Rate"}}, "y": {"field": "y", "type": "quantitative", "axis": {"title": "True Positive Rate"}}}},
 {"data": {"values": [{"letter": "c"}]}, "mark": {"type": "text", "fontSize": 23, "fontWeight": "bold", "color": "#000000"}, "encoding": {"x": {"datum": -0.255, "type": "quantitative"}, "y": {"datum": 1.105, "type": "quantitative"}, "text": {"field": "letter"}}}
]},
{"width": 237, "height": 238, "title": "Xception", "layer": [
 {"data": {"name": "d"}, "mark": "line", "encoding": {
  "x": {"field": "x", "type": "quantitative", "scale": {"domain": [-0.07, 1.07], "nice": false, "zero": false}, "axis": {"title": "False Positive Rate"}},
  "y": {"field": "y", "type": "quantitative", "scale": {"domain": [-0.07, 1.07], "nice": false, "zero": false}, "axis": {"title": "True Positive Rate"}},
  "color": {"field": "s", "type": "nominal", "scale": {"domain": ["N3 (AUC = 0.6128)","N4 (AUC = 0.6675)","N5 (AUC = 0.6329)","N6 (AUC = 0.6434)"], "range": ["#0072BD","#D95319","#EDB120","#7E2F8E"]}, "legend": {"title": null}},
  "order": {"value": null}}},
 {"data": {"values": [{"x": 0, "y": 0}, {"x": 1, "y": 1}]}, "mark": {"type": "line", "color": "#000000", "strokeDash": [8, 6], "strokeWidth": 2.5}, "encoding": {"x": {"field": "x", "type": "quantitative", "axis": {"title": "False Positive Rate"}}, "y": {"field": "y", "type": "quantitative", "axis": {"title": "True Positive Rate"}}}},
 {"data": {"values": [{"letter": "d"}]}, "mark": {"type": "text", "fontSize": 23, "fontWeight": "bold", "color": "#000000"}, "encoding": {"x": {"datum": -0.255, "type": "quantitative"}, "y": {"datum": 1.105, "type": "quantitative"}, "text": {"field": "letter"}}}
]},
{"width": 237, "height": 238, "title": "Inception-v3", "layer": [
 {"data": {"name": "e"}, "mark": "line", "encoding": {
  "x": {"field": "x", "type": "quantitative", "scale": {"domain": [-0.07, 1.07], "nice": false, "zero": false}, "axis": {"title": "False Positive Rate"}},
  "y": {"field": "y", "type": "quantitative", "scale": {"domain": [-0.07, 1.07], "nice": false, "zero": false}, "axis": {"title": "True Positive Rate"}},
  "color": {"field": "s", "type": "nominal", "scale": {"domain": ["N3 (AUC = 0.6712)","N4 (AUC = 0.6796)","N5 (AUC = 0.6251)","N6 (AUC = 0.6791)"], "range": ["#0072BD","#D95319","#EDB120","#7E2F8E"]}, "legend": {"title": null}},
  "order": {"value": null}}},
 {"data": {"values": [{"x": 0, "y": 0}, {"x": 1, "y": 1}]}, "mark": {"type": "line", "color": "#000000", "strokeDash": [8, 6], "strokeWidth": 2.5}, "encoding": {"x": {"field": "x", "type": "quantitative", "axis": {"title": "False Positive Rate"}}, "y": {"field": "y", "type": "quantitative", "axis": {"title": "True Positive Rate"}}}},
 {"data": {"values": [{"letter": "e"}]}, "mark": {"type": "text", "fontSize": 23, "fontWeight": "bold", "color": "#000000"}, "encoding": {"x": {"datum": -0.255, "type": "quantitative"}, "y": {"datum": 1.105, "type": "quantitative"}, "text": {"field": "letter"}}}
]},
{"width": 237, "height": 238, "title": "Inception-ResNet-v2", "layer": [
 {"data": {"name": "f"}, "mark": "line", "encoding": {
  "x": {"field": "x", "type": "quantitative", "scale": {"domain": [-0.07, 1.07], "nice": false, "zero": false}, "axis": {"title": "False Positive Rate"}},
  "y": {"field": "y", "type": "quantitative", "scale": {"domain": [-0.07, 1.07], "nice": false, "zero": false}, "axis": {"title": "True Positive Rate"}},
  "color": {"field": "s", "type": "nominal", "scale": {"domain": ["N3 (AUC = 0.6620)","N4 (AUC = 0.6623)","N5 (AUC = 0.6680)","N6 (AUC = 0.6759)"], "range": ["#0072BD","#D95319","#EDB120","#7E2F8E"]}, "legend": {"title": null}},
  "order": {"value": null}}},
 {"data": {"values": [{"x": 0, "y": 0}, {"x": 1, "y": 1}]}, "mark": {"type": "line", "color": "#000000", "strokeDash": [8, 6], "strokeWidth": 2.5}, "encoding": {"x": {"field": "x", "type": "quantitative", "axis": {"title": "False Positive Rate"}}, "y": {"field": "y", "type": "quantitative", "axis": {"title": "True Positive Rate"}}}},
 {"data": {"values": [{"letter": "f"}]}, "mark": {"type": "text", "fontSize": 23, "fontWeight": "bold", "color": "#000000"}, "encoding": {"x": {"datum": -0.255, "type": "quantitative"}, "y": {"datum": 1.105, "type": "quantitative"}, "text": {"field": "letter"}}}
]}
],
"config": {
 "font": "Liberation Sans",
 "view": {"stroke": null},
 "line": {"strokeWidth": 2.3},
 "text": {"baseline": "alphabetic", "align": "center"},
 "axis": {"grid": false, "domainColor": "#262626", "tickColor": "#262626", "labelColor": "#262626", "titleColor": "#262626", "labelFontSize": 16, "titleFontSize": 18.5, "titleFontWeight": "normal", "tickSize": 5, "domainWidth": 1, "tickWidth": 1, "labelFlush": false, "values": [0, 0.2, 0.4, 0.6, 0.8, 1], "format": ".1f", "labelOverlap": false},
 "axisX": {"labelPadding": 10, "titlePadding": 2},
 "axisY": {"labelPadding": 6, "titlePadding": 8},
 "title": {"fontSize": 19, "fontWeight": "bold", "color": "#000000", "anchor": "middle", "frame": "group", "offset": -16},
 "legend": {"orient": "none", "legendX": 46, "legendY": 144.5, "fillColor": "white", "strokeColor": "#262626", "padding": 5, "symbolType": "M-3.5,0L3.5,0", "symbolSize": 100, "symbolStrokeWidth": 2.5, "symbolOffset": 12.5, "labelOffset": 13.5, "labelFontSize": 15.1, "labelColor": "#000000", "rowPadding": 1.8, "labelLimit": 300}
}
}
